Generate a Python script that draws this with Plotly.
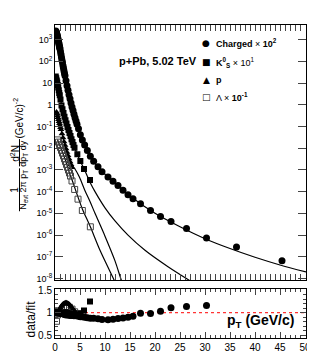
import plotly.graph_objects as go

# ---------------- data ----------------
ch_pt = [0.15,0.2,0.25,0.3,0.35,0.4,0.45,0.5,0.55,0.6,0.65,0.7,0.75,0.8,0.85,0.9,0.95,1.0,
         1.1,1.2,1.3,1.4,1.5,1.6,1.7,1.8,1.9,2.0,2.2,2.4,2.6,2.8,3.0,3.2,3.4,3.6,3.8,4.0,
         4.2,4.4,4.7,5.07,5.47,5.93,6.47,7.07,7.73,8.6,9.4,10.6,11.6,12.6,13.6,14.6,15.6,
         17.1,19.1,21.1,23.2,26.3,30.3,36.3,45.4]
ch_val = [2.5e3,2.34e3,2.19e3,2.0e3,1.82e3,1.66e3,1.48e3,1.32e3,1.17e3,1.02e3,912,794,708,
          617,537,468,417,363,275,204,151,112,85,63,48,36,27.5,21.4,12.6,7.4,4.6,2.9,1.86,
          1.2,0.79,0.54,0.36,0.25,0.178,0.126,0.079,0.042,0.024,0.0141,7.9e-3,4.3e-3,2.5e-3,
          1.38e-3,8.3e-4,4.7e-4,3.0e-4,1.9e-4,1.17e-4,7.2e-5,4.7e-5,2.75e-5,1.35e-5,7.1e-6,
          4.2e-6,2.0e-6,7.4e-7,2.8e-7,6.6e-8]
ch_fit_pt = [0.15,0.5,1.0,1.5,2.0,2.5,3.0,3.5,4.0,5.0,6.0,7.0,8.0,10.0,12.0,15.0,20.0,25.0,
             30.0,35.0,40.0,45.0,50.2]
ch_fit_val = [2.5e3,1.32e3,363,85,21.4,5.8,1.86,0.66,0.25,0.047,0.0126,4.6e-3,2.0e-3,6.3e-4,
              2.4e-4,6.3e-5,1.0e-5,2.4e-6,6.8e-7,2.4e-7,9.5e-8,4.2e-8,2.0e-8]

k0_pt = [0.15,0.25,0.35,0.45,0.55,0.65,0.75,0.85,0.95,1.1,1.3,1.5,1.7,1.9,2.1,2.3,2.5,2.7,
         2.9,3.1,3.3,3.5,3.7,3.9,4.47,5.07,5.8,7.0]
k0_val = [20,16.6,13.2,10.5,8.1,6.2,4.7,3.5,2.7,1.74,0.93,0.62,0.42,0.28,0.195,0.135,0.095,
          0.069,0.050,0.036,0.026,0.019,0.0141,0.0105,5.2e-3,2.6e-3,1.1e-3,3.4e-4]
k0_fit_pt = [0.15,0.5,1.0,1.5,2.0,2.5,3.0,3.5,4.0,5.0,6.0,7.0,8.0,10.0,12.0,14.6,18.0,22.6,27.0]
k0_fit_val = [20,9.3,2.4,0.62,0.24,0.095,0.044,0.019,9.5e-3,2.7e-3,9.0e-4,2.7e-4,1.0e-4,
              1.8e-5,4.5e-6,1.0e-6,2.0e-7,3.5e-8,7.9e-9]

p_pt = [0.3,0.4,0.5,0.6,0.7,0.8,0.9,1.0,1.1,1.2,1.4,1.6,1.8,2.0,2.2,2.4,2.6,2.8,3.0,3.2,3.4]
p_val = [0.46,0.39,0.32,0.26,0.21,0.17,0.135,0.110,0.089,0.072,0.046,0.030,0.020,0.0135,
         9.3e-3,6.5e-3,4.6e-3,3.3e-3,2.4e-3,1.75e-3,1.3e-3]
p_fit_pt = [0.3,1.0,2.0,3.0,4.0,4.9,6.0,7.0,8.0,10.0,12.0,13.3,14.0]
p_fit_val = [0.46,0.110,0.0135,2.4e-3,1.1e-3,4.6e-4,1.1e-4,3.5e-5,1.0e-5,8.9e-7,6.5e-8,
             7.9e-9,3.0e-9]

la_pt = [0.5,0.7,0.9,1.1,1.3,1.5,1.7,1.9,2.1,2.3,2.5,2.7,2.9,3.1,3.4,3.93,4.6,5.47,7.07]
la_val = [0.024,0.019,0.0145,0.0107,7.9e-3,5.9e-3,4.4e-3,3.2e-3,2.4e-3,1.78e-3,1.32e-3,
          9.8e-4,7.2e-4,5.2e-4,3.1e-4,1.26e-4,4.5e-5,1.35e-5,2.4e-6]
la_fit_pt = [0.5,1.0,2.0,3.0,3.4,4.6,5.47,7.07,9.0,11.9,12.5]
la_fit_val = [0.025,0.0125,3.2e-3,6.0e-4,3.5e-4,5.6e-5,1.6e-5,2.4e-6,2.0e-7,7.9e-9,4.0e-9]

# ratio data/fit
ch_r_pt = [0.15,0.3,0.5,0.7,0.9,1.1,1.3,1.5,1.7,1.9,2.2,2.6,3.0,3.4,3.8,4.2,4.7,5.07,5.47,
           5.93,6.47,7.07,7.73,8.6,9.4,10.6,11.6,12.6,13.6,14.6,15.6,17.1,19.1,21.1,23.2,
           26.3,30.3]
ch_r_val = [1.02,1.03,1.02,1.01,1.0,0.99,0.99,0.98,0.97,0.96,0.95,0.95,0.94,0.94,0.93,0.93,
            0.92,0.91,0.91,0.9,0.89,0.88,0.875,0.865,0.85,0.845,0.855,0.87,0.885,0.9,0.92,
            0.99,0.98,1.03,1.11,1.14,1.16]
k0_r_pt = [0.15,0.35,0.55,0.75,0.95,1.3,1.7,2.1,2.5,2.9,3.3,3.7,4.47,5.07,5.8,7.0]
k0_r_val = [1.05,1.02,1.0,0.99,0.98,0.99,1.0,1.01,1.0,0.98,0.96,0.95,0.95,0.98,1.05,1.25]
p_r_pt = [0.3,0.5,0.7,0.9,1.1,1.3,1.5,1.7,1.9,2.1,2.3,2.5,2.7,2.9,3.1,3.3,3.6,3.9,4.2]
p_r_val = [0.95,0.98,1.02,1.07,1.11,1.15,1.18,1.2,1.21,1.22,1.22,1.21,1.2,1.18,1.15,1.12,
           1.08,1.04,1.0]
la_r_pt = [0.3,0.5,0.9,1.3,1.7,2.1,2.5,2.9,3.4,3.93,4.6,5.47]
la_r_val = [0.81,0.95,1.0,1.05,1.1,1.13,1.14,1.12,1.08,1.02,0.98,0.97]

x_ticks = [0,5,10,15,20,25,30,35,40,45,50]
y_tickvals = [1e-8,1e-7,1e-6,1e-5,1e-4,1e-3,1e-2,1e-1,1,10,1e2,1e3]
y_ticktext = ["10<sup>-8</sup>","10<sup>-7</sup>","10<sup>-6</sup>","10<sup>-5</sup>",
              "10<sup>-4</sup>","10<sup>-3</sup>","10<sup>-2</sup>","10<sup>-1</sup>",
              "1","10","10<sup>2</sup>","10<sup>3</sup>"]
r_tickvals = [0.5,1,1.5]
legend_labels = ["<b>Charged</b> \u00d7 <b>10<sup>2</sup></b>",
                 "<b>K<sup>0</sup><sub>S</sub></b> \u00d7 10<sup>1</sup>",
                 "<b>p</b>",
                 "\u039b \u00d7 <b>10<sup>-1</sup></b>"]
legend_glyphs = ["\u25cf", "\u25a0", "\u25b2", "\u25a1"]

# ---------------- figure ----------------
FONT = "Liberation Sans, Arial, sans-serif"
fig = go.Figure()

def line(x, y):
    fig.add_trace(go.Scatter(x=x, y=y, mode="lines", line=dict(color="black", width=1.2,
                  shape="spline", smoothing=0.8), showlegend=False, hoverinfo="skip",
                  xaxis="x", yaxis="y"))

line(ch_fit_pt, ch_fit_val)
line(k0_fit_pt, k0_fit_val)
line(p_fit_pt, p_fit_val)
line(la_fit_pt, la_fit_val)

mk_ch = dict(symbol="circle", size=7, color="black")
mk_k0 = dict(symbol="square", size=6, color="black")
mk_p = dict(symbol="triangle-up", size=6, color="black")
mk_la = dict(symbol="square-open", size=6, color="#444444", line=dict(width=1))

fig.add_trace(go.Scatter(x=ch_pt, y=ch_val, mode="markers", marker=mk_ch, showlegend=False))
fig.add_trace(go.Scatter(x=k0_pt, y=k0_val, mode="markers", marker=mk_k0, showlegend=False))
fig.add_trace(go.Scatter(x=p_pt, y=p_val, mode="markers", marker=mk_p, showlegend=False))
fig.add_trace(go.Scatter(x=la_pt, y=la_val, mode="markers", marker=mk_la, showlegend=False))

# ratio panel
fig.add_trace(go.Scatter(x=[0, 50.2], y=[1, 1], mode="lines", yaxis="y2",
                         line=dict(color="red", width=1, dash="dot"), showlegend=False))
fig.add_trace(go.Scatter(x=la_r_pt, y=la_r_val, mode="markers", marker=mk_la, yaxis="y2",
                         showlegend=False))
fig.add_trace(go.Scatter(x=p_r_pt, y=p_r_val, mode="markers", marker=mk_p, yaxis="y2",
                         showlegend=False))
fig.add_trace(go.Scatter(x=k0_r_pt, y=k0_r_val, mode="markers", marker=mk_k0, yaxis="y2",
                         showlegend=False))
fig.add_trace(go.Scatter(x=ch_r_pt, y=ch_r_val, mode="markers", marker=mk_ch, yaxis="y2",
                         showlegend=False))

axcommon = dict(showline=True, linecolor="black", linewidth=1, mirror="allticks",
                ticks="inside", showgrid=False, zeroline=False)

fig.update_layout(
    width=315, height=357, paper_bgcolor="white", plot_bgcolor="white",
    margin=dict(l=47, r=17, t=14, b=22), showlegend=False,
    font=dict(family=FONT, size=10, color="black"),
    xaxis=dict(range=[0, 50.2], tickvals=x_ticks, ticklen=6, anchor="y2",
               tickfont=dict(size=10), minor=dict(dtick=1, ticks="inside", ticklen=3),
               **axcommon),
    yaxis=dict(type="log", range=[-8.09, 3.67], domain=[0.1838, 1.0],
               tickvals=y_tickvals, ticktext=y_ticktext, ticklen=8,
               tickfont=dict(size=9), minor=dict(ticks="inside", ticklen=4),
               **axcommon),
    yaxis2=dict(range=[0.44, 1.52], domain=[0, 0.1558], tickvals=r_tickvals,
                ticktext=["0.5", "1", "1.5"], ticklen=6, tickfont=dict(size=10),
                minor=dict(dtick=0.1, ticks="inside", ticklen=3),
                **axcommon),
    xaxis3=dict(range=[0, 50.2], anchor="y", overlaying="x", showticklabels=False,
                tickvals=x_ticks, ticklen=6,
                minor=dict(dtick=1, ticks="inside", ticklen=3), **axcommon),
)
fig.add_trace(go.Scatter(x=[None], y=[None], xaxis="x3", yaxis="y", showlegend=False))

W, H = 251.0, 321.0
def px(xp):
    return (xp - 47) / W
def py(yp):
    return (335 - yp) / H

ann = [
    dict(text="<b>p+Pb, 5.02 TeV</b>", x=px(109), y=py(51), xanchor="left",
         font=dict(size=11)),
    # y-axis title (two fractions, rotated)
    dict(text="1", x=px(7), y=py(183), textangle=-90, font=dict(size=10)),
    dict(text="N<sub>evt</sub> 2\u03c0 p<sub>T</sub>", x=px(16), y=py(183), textangle=-90,
         font=dict(size=9)),
    dict(text="d<sup>2</sup>N", x=px(7), y=py(146), textangle=-90, font=dict(size=10)),
    dict(text="dp<sub>T</sub> dy", x=px(16), y=py(146), textangle=-90, font=dict(size=9)),
    dict(text="(GeV/c)<sup>-2</sup>", x=px(10), y=py(110), textangle=-90,
         font=dict(size=10)),
    dict(text="data/fit", x=px(23), y=py(316), textangle=-90, font=dict(size=12)),
    dict(text="<b>p<sub>T</sub> (GeV/c)</b>", x=px(288), y=py(318), xanchor="right",
         font=dict(size=14)),
]
leg_y = [32, 52, 70, 88]
for g, lab, yy in zip(legend_glyphs, legend_labels, leg_y):
    ann.append(dict(text=g, x=px(198), y=py(yy), font=dict(size=9,
                    family="DejaVu Sans")))
    ann.append(dict(text=lab, x=px(206), y=py(yy), xanchor="left", font=dict(size=9)))
for a in ann:
    a.update(xref="paper", yref="paper", showarrow=False)
    a.setdefault("xanchor", "center")
    a.setdefault("yanchor", "middle")
fig.update_layout(annotations=ann)
fig.update_layout(shapes=[
    dict(type="line", xref="paper", yref="paper", x0=px(11.5), x1=px(11.5), y0=py(161),
         y1=py(205), line=dict(color="black", width=1)),
    dict(type="line", xref="paper", yref="paper", x0=px(11.5), x1=px(11.5), y0=py(131),
         y1=py(159), line=dict(color="black", width=1)),
])

fig.write_html("out.html")
